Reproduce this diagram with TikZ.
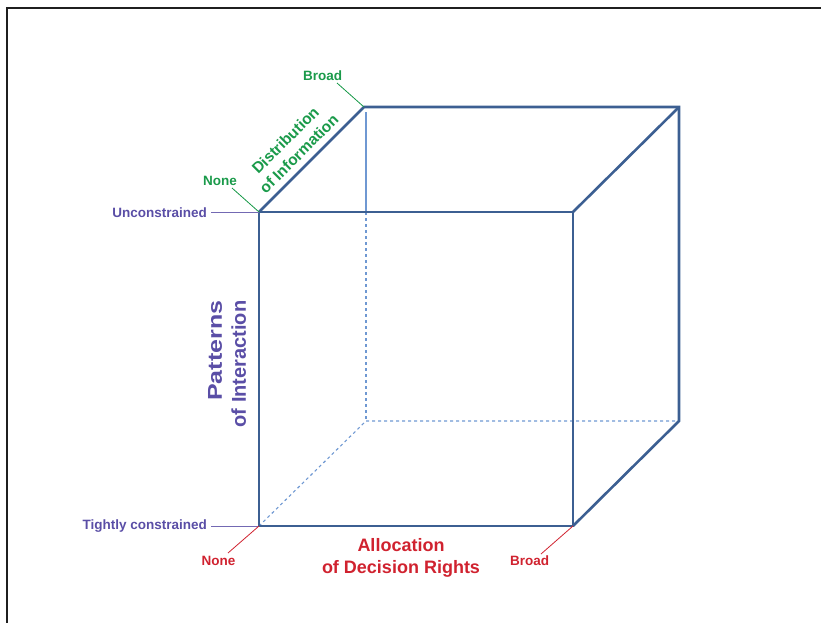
\documentclass[tikz,border=0pt]{standalone}
\usepackage{fontspec}
\setmainfont{Liberation Sans}
\definecolor{cubeblue}{HTML}{3C5F92}
\definecolor{hidblue}{HTML}{6F98D2}
\definecolor{lblpurple}{HTML}{5A4EA6}
\definecolor{lblgreen}{HTML}{1A9A4A}
\definecolor{lblred}{HTML}{D0222F}
\begin{document}
\begin{tikzpicture}[x=1pt,y=-1pt,
  edge/.style={draw=cubeblue,line width=2.6pt,line join=miter},
  hidden/.style={draw=hidblue,line width=1.1pt,dash pattern=on 3pt off 3pt},
  hiddensolid/.style={draw=hidblue,line width=1.2pt},
  lead/.style={line width=0.8pt},
  small/.style={inner sep=0pt,anchor=base,font=\fontsize{13.5}{16}\selectfont\bfseries},
  big/.style={inner sep=0pt,font=\fontsize{18}{22}\selectfont\bfseries,align=center}]
\useasboundingbox (0,0) rectangle (821,622);
% frame
\draw[line width=2pt,black!88] (7,660) -- (7,8) -- (860,8);
% cube corners
\coordinate (F1) at (259,212);
\coordinate (F2) at (573,212);
\coordinate (F3) at (573,526);
\coordinate (F4) at (259,526);
\coordinate (B1) at (364,107);
\coordinate (B2) at (679,107);
\coordinate (B3) at (679,421);
\coordinate (B4) at (366,421);
\coordinate (Vt) at (366,112);
% hidden edges
\draw[hiddensolid] (Vt) -- (B4 |- F1);
\draw[hidden] (B4 |- F1) -- (B4);
\draw[hidden] (F4) -- (B4) -- (B3);
% visible edges
\draw[edge] (F1) -- (F2) -- (F3) -- (F4) -- cycle;
\draw[edge] (F1) -- (B1) -- (B2) -- (B3) -- (F3);
\draw[edge] (F2) -- (B2);
% labels
\node[small,text=lblgreen] (gbroad) at (322.5,80) {Broad};
\node[small,text=lblgreen] (gnone) at (220,185) {None};
\node[small,text=lblpurple,anchor=base east] (unc) at (207,217) {Unconstrained};
\node[small,text=lblpurple,anchor=base east] (tight) at (207,529) {Tightly constrained};
\node[small,text=lblred] (rnone) at (218.5,565) {None};
\node[small,text=lblred] (rbroad) at (529.5,565) {Broad};
\node[big,text=lblred,anchor=base] (alloc) at (401,573) {Allocation\\of Decision Rights};
\node[inner sep=0pt,font=\fontsize{15.5}{19}\selectfont\bfseries,align=center,text=lblgreen,rotate=45] (dist) at (292,147) {Distribution\\of Information};
\node[inner sep=0pt,font=\fontsize{20}{24}\selectfont\bfseries,align=right,text=lblpurple,rotate=90] (pat) at (227,364) {\scalebox{1.25}[1]{Patterns}\\of Interaction};
% leader lines
\coordinate (gbL) at (337,83);
\coordinate (gnL) at (232,188);
\coordinate (unL) at (211,212);
\coordinate (tiL) at (211,526);
\coordinate (rnL) at (228,553);
\coordinate (rbL) at (541,554);
\draw[lead,lblgreen] (gbL) -- (B1);
\draw[lead,lblgreen] (gnL) -- (F1);
\draw[lead,lblpurple!85] (unL) -- (F1);
\draw[lead,lblpurple!85] (tiL) -- (F4);
\draw[lead,lblred] (rnL) -- (F4);
\draw[lead,lblred] (rbL) -- (F3);
\end{tikzpicture}
\end{document}
